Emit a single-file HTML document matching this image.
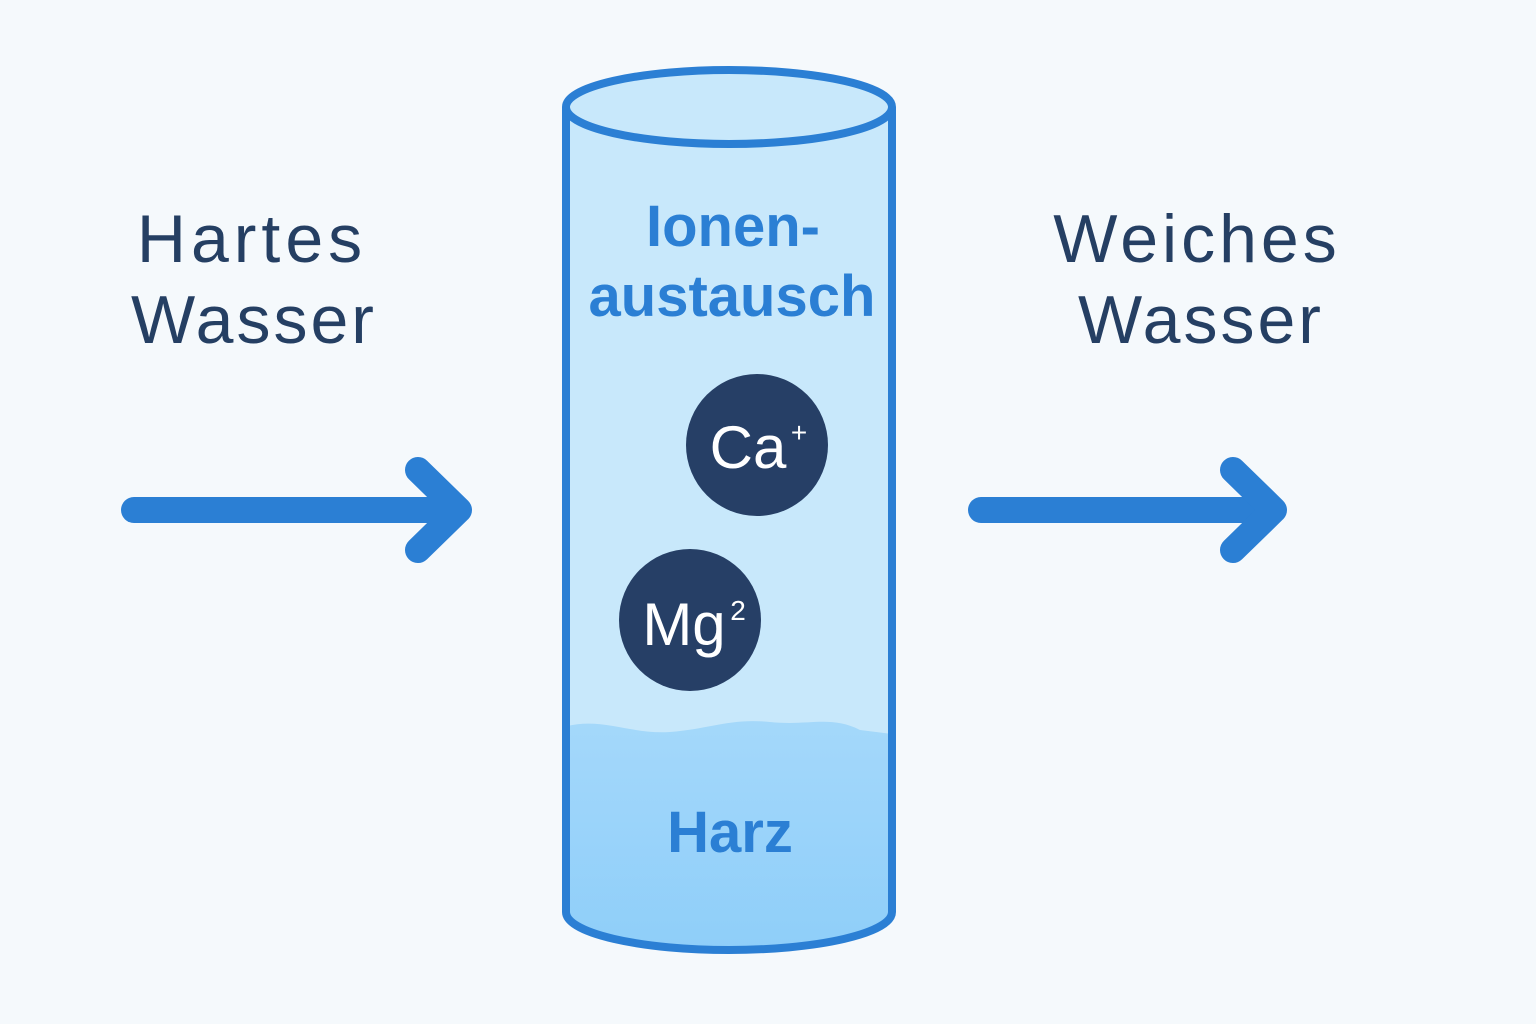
<!DOCTYPE html>
<html><head><meta charset="utf-8"><style>
html,body{margin:0;padding:0;background:#f5f9fc;}
svg{display:block}
</style></head><body>
<svg width="1536" height="1024" viewBox="0 0 1536 1024" xmlns="http://www.w3.org/2000/svg">
<rect width="1536" height="1024" fill="#f5f9fc"/>
<defs>
<clipPath id="cyl"><path d="M566,107 L566,912 A163,38 0 0 0 892,912 L892,107 Z"/></clipPath>
<linearGradient id="w" x1="0" y1="0" x2="0" y2="1"><stop offset="0" stop-color="#a4d8fa"/><stop offset="1" stop-color="#8ccdf9"/></linearGradient>
</defs>
<path d="M566,107 L566,912 A163,38 0 0 0 892,912 L892,107 Z" fill="#c8e8fb"/>
<g clip-path="url(#cyl)">
<path d="M560,728 C600,715 630,735 670,732 C710,729 730,718 770,722 C810,726 830,715 860,730 L900,735 L900,980 L560,980 Z" fill="url(#w)"/>
</g>
<path d="M566,107 L566,912 A163,38 0 0 0 892,912 L892,107" fill="none" stroke="#2b7fd4" stroke-width="8"/>
<ellipse cx="729" cy="107" rx="163" ry="37" fill="#c8e8fb" stroke="#2b7fd4" stroke-width="8"/>
<g stroke="#2b7fd4" stroke-width="26" stroke-linecap="round" stroke-linejoin="round" fill="none">
<line x1="134" y1="510" x2="455" y2="510"/>
<polyline points="418,470 459,510 418,550"/>
<line x1="981" y1="510" x2="1270" y2="510"/>
<polyline points="1233,470 1274,510 1233,550"/>
</g>
<g font-family="Liberation Sans, sans-serif" text-anchor="middle">
<text x="252" y="262" font-size="68" fill="#253f63" letter-spacing="5">Hartes</text>
<text x="254" y="343" font-size="68" fill="#253f63" letter-spacing="3">Wasser</text>
<text x="1197" y="262" font-size="68" fill="#253f63" letter-spacing="4">Weiches</text>
<text x="1201" y="343" font-size="68" fill="#253f63" letter-spacing="3">Wasser</text>
<text x="733" y="246" font-size="58" font-weight="bold" fill="#2b7fd4">Ionen-</text>
<text x="732" y="316" font-size="58" font-weight="bold" fill="#2b7fd4">austausch</text>
<text x="730" y="852" font-size="58" font-weight="bold" fill="#2b7fd4">Harz</text>
<circle cx="757" cy="445" r="71" fill="#263f66"/>
<circle cx="690" cy="620" r="71" fill="#263f66"/>
<text x="748" y="468" font-size="60" fill="#fff">Ca</text>
<text x="799" y="442" font-size="28" fill="#fff">+</text>
<text x="684" y="645" font-size="60" fill="#fff">Mg</text>
<text x="738" y="620" font-size="28" fill="#fff">2</text>
</g>
</svg>
</body></html>
